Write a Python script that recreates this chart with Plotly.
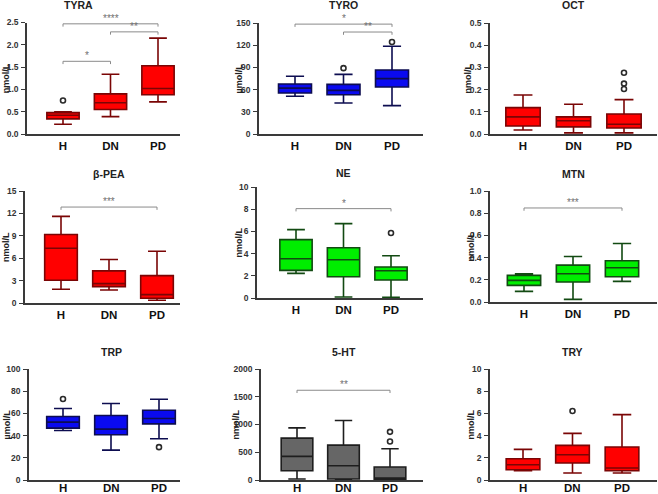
import plotly.graph_objects as go

groups = ["H", "DN", "PD"]

# ---------------- data ----------------
tyra_low = [0.22, 0.39, 0.72]
tyra_q1 = [0.34, 0.55, 0.88]
tyra_med = [0.42, 0.70, 1.02]
tyra_q3 = [0.48, 0.90, 1.53]
tyra_high = [0.50, 1.34, 2.15]
tyra_out_g = [0]
tyra_out_v = [0.75]

tyro_low = [51.0, 41.9, 38.3]
tyro_q1 = [55.4, 53.0, 63.5]
tyro_med = [62.0, 59.0, 74.8]
tyro_q3 = [67.6, 67.0, 86.5]
tyro_high = [78.0, 80.6, 118.5]
tyro_out_g = [1, 2]
tyro_out_v = [89.0, 124.3]

oct_low = [0.018, 0.005, 0.005]
oct_q1 = [0.036, 0.032, 0.027]
oct_med = [0.077, 0.060, 0.044]
oct_q3 = [0.119, 0.077, 0.090]
oct_high = [0.176, 0.134, 0.155]
oct_out_g = [2, 2, 2]
oct_out_v = [0.276, 0.227, 0.203]

pea_low = [1.84, 1.75, 0.36]
pea_q1 = [3.05, 2.19, 0.63]
pea_med = [7.34, 2.60, 1.12]
pea_q3 = [9.18, 4.30, 3.67]
pea_high = [11.6, 5.82, 6.94]
pea_out_g = []
pea_out_v = []

ne_low = [2.22, 0.09, 0.06]
ne_q1 = [2.49, 1.92, 1.62]
ne_med = [3.54, 3.45, 2.46]
ne_q3 = [5.26, 4.53, 2.79]
ne_high = [6.16, 6.70, 3.81]
ne_out_g = [2]
ne_out_v = [5.86]

mtn_low = [0.096, 0.024, 0.186]
mtn_q1 = [0.150, 0.180, 0.228]
mtn_med = [0.195, 0.254, 0.308]
mtn_q3 = [0.240, 0.332, 0.371]
mtn_high = [0.255, 0.410, 0.527]
mtn_out_g = []
mtn_out_v = []

trp_low = [44.6, 26.9, 37.1]
trp_q1 = [46.7, 40.7, 50.6]
trp_med = [52.1, 45.8, 55.4]
trp_q3 = [57.2, 58.1, 62.9]
trp_high = [64.4, 68.9, 72.8]
trp_out_g = [0, 2]
trp_out_v = [73.0, 29.6]

ht_low = [18, 6, 0]
ht_q1 = [168, 18, 12]
ht_med = [425, 257, 36]
ht_q3 = [754, 629, 234]
ht_high = [940, 1072, 563]
ht_out_g = [2, 2]
ht_out_v = [868, 695]

try_low = [0.84, 0.63, 0.63]
try_q1 = [0.93, 1.53, 0.84]
try_med = [1.38, 2.28, 1.08]
try_q3 = [1.92, 3.12, 2.97]
try_high = [2.76, 4.20, 5.89]
try_out_g = [1]
try_out_v = [6.22]

titles = ["TYRA", "TYRO", "OCT", "β-PEA", "NE", "MTN", "TRP", "5-HT", "TRY"]
units = ["nmol/L", "µmol/L", "nmol/L", "nmol/L", "nmol/L", "nmol/L", "µmol/L", "nmol/L", "nmol/L"]
y_tops = [2.5, 150, 0.5, 15, 10, 1.0, 100, 2000, 10]
y_dticks = [0.5, 30, 0.1, 3, 2, 0.2, 20, 500, 2]
y_formats = [".1f", "", ".1f", "", "", ".1f", "", "", ""]

# significance brackets: (from group, to group, y level, stars)
tyra_sig = [(0, 1, 1.63, "*"), (1, 2, 2.29, "**"), (0, 2, 2.47, "****")]
tyro_sig = [(1, 2, 137.8, "**"), (0, 2, 148.5, "*")]
pea_sig = [(0, 2, 12.85, "***")]
ne_sig = [(0, 2, 8.05, "*")]
mtn_sig = [(0, 2, 0.847, "***")]
ht_sig = [(0, 2, 1617, "**")]

stats = [
    (tyra_low, tyra_q1, tyra_med, tyra_q3, tyra_high, tyra_out_g, tyra_out_v, tyra_sig),
    (tyro_low, tyro_q1, tyro_med, tyro_q3, tyro_high, tyro_out_g, tyro_out_v, tyro_sig),
    (oct_low, oct_q1, oct_med, oct_q3, oct_high, oct_out_g, oct_out_v, []),
    (pea_low, pea_q1, pea_med, pea_q3, pea_high, pea_out_g, pea_out_v, pea_sig),
    (ne_low, ne_q1, ne_med, ne_q3, ne_high, ne_out_g, ne_out_v, ne_sig),
    (mtn_low, mtn_q1, mtn_med, mtn_q3, mtn_high, mtn_out_g, mtn_out_v, mtn_sig),
    (trp_low, trp_q1, trp_med, trp_q3, trp_high, trp_out_g, trp_out_v, []),
    (ht_low, ht_q1, ht_med, ht_q3, ht_high, ht_out_g, ht_out_v, ht_sig),
    (try_low, try_q1, try_med, try_q3, try_high, try_out_g, try_out_v, []),
]

# ---------------- styling / geometry ----------------
W, H = 658, 494
RED = ("#ff0000", "#7a0505")
BLUE = ("#0a0af0", "#0d0d50")
GREEN = ("#00ee00", "#124a12")
GRAY = ("#666666", "#1e1e1e")
colors = [RED, BLUE, RED, RED, GREEN, GREEN, BLUE, GRAY, RED]

# pixel geometry: plot area (x0, x1, ytop, ybottom) and category pixel positions (H, PD)
areas = [
    (27, 180, 22.5, 134), (259, 423, 23, 134), (490, 657, 23, 134),
    (25, 180, 191, 303), (257, 423, 187, 298), (490, 657, 191, 302),
    (29, 180, 369, 480), (261, 423, 369, 480), (490, 657, 369, 480),
]
cats_px = [
    (63, 158), (295, 392), (523, 624),
    (61, 157), (296, 391), (524, 622),
    (63, 159), (297, 390), (523, 622),
]
title_y_px = [5, 5, 5.5, 174, 173, 174, 352, 352, 352]
title_x_cat = [0.32, 1, 1, 1, 1, 1, 1, 1, 1]
ytitle_x_px = [6, 239, 468, 6, 238, 470, 6, 235, 470]
bottom_row = [6, 7, 8]

FONT = "Liberation Sans, Arial, sans-serif"
CAT_FONT = dict(family=FONT, size=11.5, color="#111", weight="bold")

fig = go.Figure()
layout = dict(
    width=W, height=H, margin=dict(l=0, r=0, t=0, b=0, autoexpand=False),
    paper_bgcolor="white", plot_bgcolor="white", showlegend=False,
    font=dict(family=FONT, color="#222"),
)
annotations = []

for i in range(9):
    n = i + 1
    xa = "x" if n == 1 else f"x{n}"
    ya = "y" if n == 1 else f"y{n}"
    low, q1, med, q3, high, og, ov, sig = stats[i]
    fill, edge = colors[i]
    x0, x1, yt, yb = areas[i]
    hpx, ppx = cats_px[i]
    s = (ppx - hpx) / 2.0
    xr = [(x0 - hpx) / s, (x1 - hpx) / s]
    top = y_tops[i]

    fig.add_trace(go.Box(
        x=list(range(len(groups))), q1=q1, median=med, q3=q3,
        lowerfence=low, upperfence=high,
        fillcolor=fill, line=dict(color=edge, width=1.6),
        width=0.68, whiskerwidth=0.55, boxpoints=False,
        xaxis=xa, yaxis=ya, hoverinfo="skip",
    ))
    if og:
        fig.add_trace(go.Scatter(
            x=og, y=ov, mode="markers", xaxis=xa, yaxis=ya,
            marker=dict(symbol="circle-open", size=5, color="#2a2a2a", line=dict(width=1.6)),
            cliponaxis=False, hoverinfo="skip",
        ))
    drop = top * 0.025
    for (a, b, yv, stars) in sig:
        fig.add_trace(go.Scatter(
            x=[a, a, b, b], y=[yv - drop, yv, yv, yv - drop], mode="lines",
            xaxis=xa, yaxis=ya, line=dict(color="#8a8a8a", width=1),
            hoverinfo="skip",
        ))
        annotations.append(dict(
            x=(a + b) / 2.0, y=yv, xref=xa, yref=ya, text=stars, showarrow=False,
            yanchor="bottom", yshift=-2,
            font=dict(family=FONT, size=10, color="#707070"),
        ))

    in_bottom = i in bottom_row
    key = "" if n == 1 else str(n)
    layout["xaxis" + key] = dict(
        domain=[x0 / W, x1 / W], range=xr, anchor=ya, automargin=False,
        tickmode="array", tickvals=[0, 1, 2], ticktext=groups,
        showticklabels=not in_bottom,
        showline=True, linecolor="#3a3a3a", linewidth=1.6,
        ticks="", showgrid=False, zeroline=False, fixedrange=True,
        tickfont=CAT_FONT, ticklabelstandoff=0,
    )
    if in_bottom:
        # category labels of the bottom row kept inside the page
        for k, g in enumerate(groups):
            annotations.append(dict(
                x=k, y=0, xref=xa, yref="paper", text=g, showarrow=False,
                xanchor="center", yanchor="bottom", borderpad=0, yshift=-1,
                font=CAT_FONT,
            ))
    layout["yaxis" + key] = dict(
        domain=[1 - yb / H, 1 - yt / H], range=[0, top], anchor=xa, automargin=False,
        dtick=y_dticks[i], tick0=0, tickformat=y_formats[i],
        showline=True, linecolor="#3a3a3a", linewidth=1.6,
        ticks="outside", ticklen=4, tickwidth=1.4, tickcolor="#3a3a3a",
        showgrid=False, zeroline=False, fixedrange=True,
        tickfont=dict(family=FONT, size=8.5, color="#333", weight="bold"),
        ticklabelstandoff=1,
    )
    # panel title
    annotations.append(dict(
        x=title_x_cat[i], y=1 - title_y_px[i] / H, xref=xa, yref="paper",
        text=titles[i], showarrow=False, xanchor="center", yanchor="middle",
        font=dict(family=FONT, size=10.5, color="#222", weight="bold"),
    ))
    # y axis title
    annotations.append(dict(
        x=ytitle_x_px[i] / W, y=1 - (yt + yb) / 2 / H, xref="paper", yref="paper",
        text=units[i], showarrow=False, textangle=-90,
        xanchor="center", yanchor="middle",
        font=dict(family=FONT, size=9, color="#222", weight="bold"),
    ))

layout["annotations"] = annotations
fig.update_layout(**layout)
fig.write_html(
    "out.html",
    config={"displayModeBar": False},
    post_script="document.body.style.margin='0';document.body.style.padding='0';",
)
